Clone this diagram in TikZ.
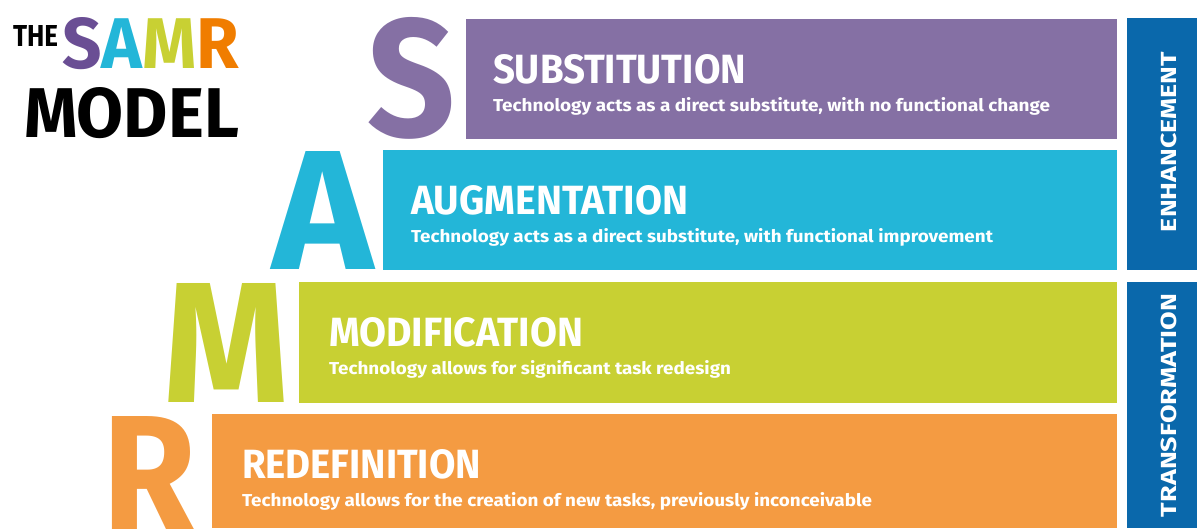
\documentclass[tikz,border=0pt]{standalone}
\usepackage{fontspec}
\setmainfont{Fira Sans}
\usepackage{graphicx}
\definecolor{cPurple}{HTML}{8570A4}
\definecolor{cPurpleDk}{HTML}{6A4E94}
\definecolor{cCyan}{HTML}{23B6D8}
\definecolor{cGreen}{HTML}{C8D033}
\definecolor{cOrange}{HTML}{F49B42}
\definecolor{cOrangeDk}{HTML}{F07D00}
\definecolor{cBlue}{HTML}{0A68AB}
\newcommand\fitbox[3]{\resizebox{#1pt}{#2pt}{#3}}
\tikzset{
  bar/.style={draw=none, inner sep=0pt, outer sep=0pt, anchor=north west},
  txt/.style={anchor=base west, inner sep=0pt, outer sep=0pt, text=white, font=\bfseries},
  big/.style={anchor=base west, inner sep=0pt, outer sep=0pt, font=\bfseries},
  vtxt/.style={anchor=center, inner sep=0pt, outer sep=0pt, text=white, font=\bfseries, rotate=90}
}
\begin{document}
\begin{tikzpicture}[x=1pt,y=-1pt]
\useasboundingbox (0,0) rectangle (1197,528);
% bars
\node[bar, fill=cPurple, minimum width=651pt, minimum height=120pt] (barS) at (466,19) {};
\node[bar, fill=cCyan,   minimum width=734pt, minimum height=120pt] (barA) at (383,150) {};
\node[bar, fill=cGreen,  minimum width=818pt, minimum height=120.5pt] (barM) at (299,282) {};
\node[bar, fill=cOrange, minimum width=905pt, minimum height=114pt] (barR) at (212,414) {};
% blue side boxes
\node[bar, fill=cBlue, minimum width=70pt, minimum height=252pt] (enh) at (1127,18) {};
\node[bar, fill=cBlue, minimum width=70pt, minimum height=246pt] (trf) at (1127,282) {};
\node[vtxt] (enhT) at (1169,142) {\fitbox{180}{15.5}{ENHANCEMENT}};
\node[vtxt] (trfT) at (1169,405.5) {\fitbox{223}{15.5}{TRANSFORMATION}};
% big letters
\node[big, text=cPurple] (bigS) at (367,136) {\fitbox{88}{119}{S}};
\node[big, text=cCyan]   (bigA) at (272,269) {\fitbox{101}{118}{A}};
\node[big, text=cGreen]  (bigM) at (163,402.5) {\fitbox{126}{119}{M}};
\node[big, text=cOrange] (bigR) at (102,534) {\fitbox{94}{118}{R}};
% bar texts
\node[txt] (tS) at (493,83) {\fitbox{253}{29}{SUBSTITUTION}};
\node[txt] (sS) at (493,111) {\fitbox{557}{14}{Technology acts as a direct substitute, with no functional change}};
\node[txt] (tA) at (411,214) {\fitbox{277}{29}{AUGMENTATION}};
\node[txt] (sA) at (411,242) {\fitbox{582}{14}{Technology acts as a direct substitute, with functional improvement}};
\node[txt] (tM) at (329,346) {\fitbox{254}{29}{MODIFICATION}};
\node[txt] (sM) at (329,374) {\fitbox{402}{14}{Technology allows for significant task redesign}};
\node[txt] (tR) at (242,478) {\fitbox{239}{29}{REDEFINITION}};
\node[txt] (sR) at (242,506) {\fitbox{630}{14}{Technology allows for the creation of new tasks, previously inconceivable}};
% title
\node[big, text=black] (the) at (13,46) {\fitbox{45}{21}{THE}};
\node[big] (samr) at (62,68) {\fitbox{177}{51}{\textcolor{cPurpleDk}{S}\textcolor{cCyan}{A}\textcolor{cGreen}{M}\textcolor{cOrangeDk}{R}}};
\node[big, text=black] (model) at (24,137) {\fitbox{215}{50}{MODEL}};
\end{tikzpicture}
\end{document}
